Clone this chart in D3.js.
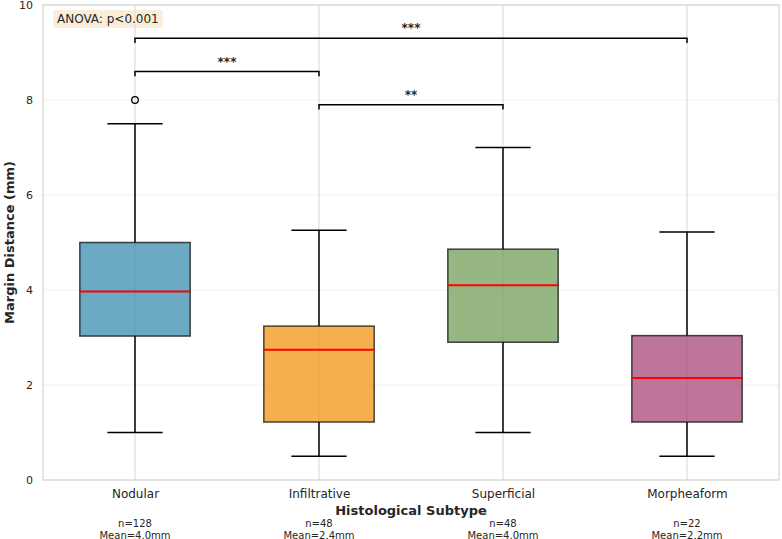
<!DOCTYPE html>
<html><head><meta charset="utf-8">
<script src="https://cdn.jsdelivr.net/npm/d3@7"></script>
<style>body{margin:0;background:#fff}text{font-family:"DejaVu Sans",sans-serif}</style>
</head><body><svg id="c" width="782" height="539"></svg>
<script>
const categories = ["Nodular","Infiltrative","Superficial","Morpheaform"];
const colors = ["#2E86AB","#F18F01","#6A994E","#A23B72"];
const whiskerLow = [1.0, 0.5, 1.0, 0.5];
const q1 = [3.03, 1.22, 2.9, 1.22];
const median = [3.97, 2.74, 4.1, 2.15];
const q3 = [5.0, 3.24, 4.86, 3.04];
const whiskerHigh = [7.5, 5.26, 7.0, 5.22];
const outliers = [[0, 8.0]];
const counts = [128, 48, 48, 22];
const means = [4.0, 2.4, 4.0, 2.2];
const yTicks = [0, 2, 4, 6, 8, 10];
const comparisons = [
  {a:0, b:1, h:8.6, label:"***"},
  {a:1, b:2, h:7.9, label:"**"},
  {a:0, b:3, h:9.3, label:"***"}
];
const anovaText = "ANOVA: p<0.001";

const svg = d3.select("#c");
const L=43, R=779, T=5, B=480;
const x = d3.scaleLinear().domain([-0.5, 3.5]).range([L, R]);
const y = d3.scaleLinear().domain([0, 10]).range([B, T]);
const bw = (x(1)-x(0))*0.6;

// grid
svg.append("g").selectAll("line").data(yTicks).join("line")
  .attr("x1",L).attr("x2",R).attr("y1",d=>y(d)).attr("y2",d=>y(d))
  .attr("stroke","#f0f0f0").attr("stroke-width",1);
svg.append("g").selectAll("line").data(categories).join("line")
  .attr("x1",(d,i)=>x(i)).attr("x2",(d,i)=>x(i)).attr("y1",T).attr("y2",B)
  .attr("stroke","#d6d6d6").attr("stroke-width",1);

// axes
const yAxis = svg.append("g").attr("transform",`translate(${L},0)`)
  .call(d3.axisLeft(y).tickValues(yTicks).tickSize(0).tickPadding(10).tickFormat(d3.format("d")));
yAxis.select(".domain").remove();
yAxis.selectAll("text").attr("font-size",11).attr("fill","#262626");
const xAxis = svg.append("g").attr("transform",`translate(0,${B})`)
  .call(d3.axisBottom(x).tickValues([0,1,2,3]).tickSize(0).tickPadding(9).tickFormat(i=>categories[i]));
xAxis.select(".domain").remove();
xAxis.selectAll("text").attr("font-size",12).attr("fill","#262626");

svg.append("rect").attr("x",L).attr("y",T).attr("width",R-L).attr("height",B-T)
  .attr("fill","none").attr("stroke","#cccccc").attr("stroke-width",1);

// boxes
const g = svg.append("g");
categories.forEach((c,i)=>{
  const cx = x(i);
  g.append("line").attr("x1",cx).attr("x2",cx).attr("y1",y(q1[i])).attr("y2",y(whiskerLow[i])).attr("stroke","#000").attr("stroke-width",1.5);
  g.append("line").attr("x1",cx).attr("x2",cx).attr("y1",y(q3[i])).attr("y2",y(whiskerHigh[i])).attr("stroke","#000").attr("stroke-width",1.5);
  g.append("line").attr("x1",cx-bw/4).attr("x2",cx+bw/4).attr("y1",y(whiskerLow[i])).attr("y2",y(whiskerLow[i])).attr("stroke","#000").attr("stroke-width",1.5);
  g.append("line").attr("x1",cx-bw/4).attr("x2",cx+bw/4).attr("y1",y(whiskerHigh[i])).attr("y2",y(whiskerHigh[i])).attr("stroke","#000").attr("stroke-width",1.5);
  g.append("rect").attr("x",cx-bw/2).attr("width",bw).attr("y",y(q3[i])).attr("height",y(q1[i])-y(q3[i]))
    .attr("fill",colors[i]).attr("fill-opacity",0.7).attr("stroke","#000").attr("stroke-opacity",0.7).attr("stroke-width",1.5);
  g.append("line").attr("x1",cx-bw/2).attr("x2",cx+bw/2).attr("y1",y(median[i])).attr("y2",y(median[i])).attr("stroke","#ff0000").attr("stroke-width",2);
  g.append("text").attr("x",cx).attr("y",523).attr("text-anchor","middle").attr("dominant-baseline","central")
    .attr("font-size",10).attr("fill","#262626").text(`n=${counts[i]}`);
  g.append("text").attr("x",cx).attr("y",535).attr("text-anchor","middle").attr("dominant-baseline","central")
    .attr("font-size",10).attr("fill","#262626").text(`Mean=${means[i].toFixed(1)}mm`);
});
g.selectAll("circle.o").data(outliers).join("circle")
  .attr("cx",d=>x(d[0])).attr("cy",d=>y(d[1])).attr("r",3.3)
  .attr("fill","none").attr("stroke","#000").attr("stroke-width",1.3);

// comparisons
comparisons.forEach(cmp=>{
  const x1=x(cmp.a), x2=x(cmp.b), hy=y(cmp.h), ly=y(cmp.h-0.1);
  svg.append("path").attr("d",`M${x1},${ly}V${hy}H${x2}V${ly}`).attr("fill","none").attr("stroke","#000").attr("stroke-width",1.5);
  svg.append("text").attr("x",(x1+x2)/2).attr("y",hy-6).attr("text-anchor","middle")
    .attr("font-size",12).attr("font-weight","bold").attr("fill","#262626").text(cmp.label);
});

// ANOVA label
const ag = svg.append("g");
const ar = ag.append("rect");
const at = ag.append("text").attr("x",57).attr("y",19).attr("dominant-baseline","central")
  .attr("font-size",12).attr("fill","#262626").text(anovaText);
const bb = at.node().getBBox();
ar.attr("x",bb.x-4).attr("y",bb.y-2).attr("width",bb.width+8).attr("height",bb.height+4)
  .attr("rx",3).attr("fill","#f5deb3").attr("fill-opacity",0.5);

// titles
svg.append("text").attr("x",(L+R)/2).attr("y",510).attr("text-anchor","middle").attr("dominant-baseline","central")
  .attr("font-size",13).attr("font-weight","bold").attr("fill","#262626").text("Histological Subtype");
svg.append("text").attr("transform",`translate(9,${(T+B)/2}) rotate(-90)`).attr("text-anchor","middle").attr("dominant-baseline","central")
  .attr("font-size",13).attr("font-weight","bold").attr("fill","#262626").text("Margin Distance (mm)");
</script></body></html>
